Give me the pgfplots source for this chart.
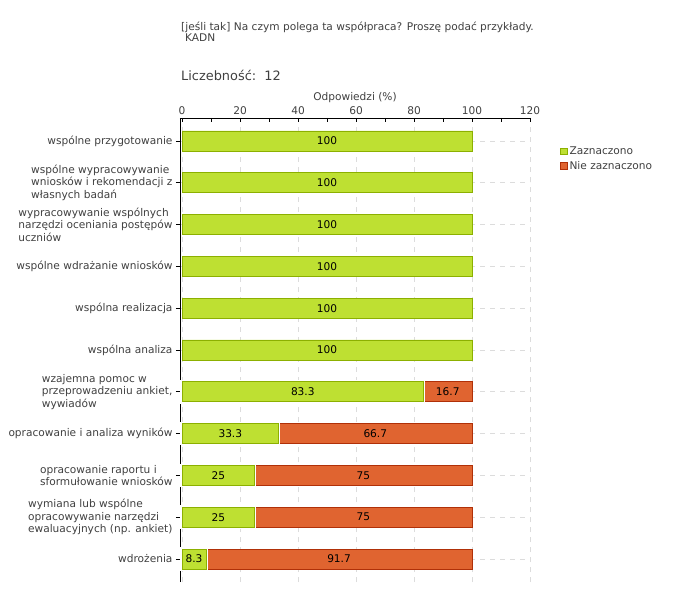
\documentclass[border=0pt]{standalone}
\usepackage{pgfplots}
\pgfplotsset{compat=1.18}
\usepackage{pgfplotstable}
\usepackage{fontspec}
\setmainfont{DejaVu Sans}
\definecolor{mygreen}{RGB}{190,224,50}
\definecolor{mygreenD}{RGB}{140,176,0}
\definecolor{myorange}{RGB}{224,100,48}
\definecolor{myorangeD}{RGB}{176,48,8}
\definecolor{txt}{RGB}{64,64,64}
\definecolor{gridc}{RGB}{220,220,220}
\newcommand{\tfont}{\fontsize{10.6}{12.5}\selectfont}

% green share (Zaznaczono), rows with an orange part first
\pgfplotstableread{
y g
0 8.3
1 25
2 25
3 33.3
4 83.3
5 100
6 100
7 100
8 100
9 100
10 100
}\gdata
% orange share (Nie zaznaczono)
\pgfplotstableread{
y o
0 91.7
1 75
2 75
3 66.7
4 16.7
}\odata
% label positions (segment middles)
\pgfplotstableread{
mid y lab
50 10 100
50 9 100
50 8 100
50 7 100
50 6 100
50 5 100
41.65 4 83.3
91.65 4 16.7
16.65 3 33.3
66.65 3 66.7
12.5 2 25
62.5 2 75
12.5 1 25
62.5 1 75
4.15 0 8.3
54.15 0 91.7
}\labdata

\begin{document}
\begin{tikzpicture}
\fill[white] (0pt,0pt) rectangle (680pt,600pt);
\path[use as bounding box] (0pt,0pt) rectangle (680pt,600pt);
\node[anchor=base west, inner sep=0pt, font=\tfont, text=txt] at (181pt,569pt) {[jeśli tak] Na czym polega ta współpraca? Proszę podać przykłady.};
\node[anchor=base west, inner sep=0pt, font=\tfont, text=txt] at (185pt,558pt) {KADN};
\node[anchor=base west, inner sep=0pt, font=\fontsize{12.9}{15}\selectfont, text=txt] at (181pt,519pt) {Liczebność:\ \ 12};

\begin{axis}[
  at={(180pt,18pt)}, anchor=south west,
  scale only axis, width=350pt, height=464pt,
  xmin=-0.7, xmax=120, ymin=-0.55, ymax=10.55,
  xbar stacked, bar width=20pt,
  axis x line=top, axis y line=left,
  axis line style={-, black, line width=0.8pt},
  xtick={0,20,...,120}, minor x tick num=1,
  ytick={0,...,10},
  yticklabels={
    {wdrożenia},
    {wymiana lub wspólne\\opracowywanie narzędzi\\ewaluacyjnych (np. ankiet)},
    {opracowanie raportu i\\sformułowanie wniosków},
    {opracowanie i analiza wyników},
    {wzajemna pomoc w\\przeprowadzeniu ankiet,\\wywiadów},
    {wspólna analiza},
    {wspólna realizacja},
    {wspólne wdrażanie wniosków},
    {wypracowywanie wspólnych\\narzędzi oceniania postępów\\uczniów},
    {wspólne wypracowywanie\\wniosków i rekomendacji z\\własnych badań},
    {wspólne przygotowanie}},
  tick align=inside,
  major tick length=4pt, minor tick length=4pt,
  xtick style={black, line width=0.8pt},
  minor tick style={red, line width=0.8pt},
  ytick style={black, line width=0.8pt, xshift=-4pt},
  xmajorgrids, ymajorgrids,
  major grid style={gridc, line width=0.7pt, dash pattern=on 5pt off 5pt},
  /pgf/number format/assume math mode=true,
  ticklabel style={font=\tfont, text=txt},
  yticklabel style={align=left, xshift=-4pt},
  xlabel={Odpowiedzi (\%)},
  xlabel style={font=\tfont, text=txt, yshift=-3pt},
  legend style={at={(1.086,0.942)}, anchor=north west, draw=none, fill=none,
    font=\tfont, text=txt, row sep=1pt, inner sep=0pt,
    cells={anchor=west}},
  legend image code/.code={\fill[#1] (0pt,-3pt) rectangle (6.5pt,3.5pt);},
]
\addplot[fill=mygreen, draw=mygreenD, line width=0.7pt] table[x=g, y=y]{\gdata};
\addplot[fill=myorange, draw=myorangeD, line width=0.7pt] table[x=o, y=y]{\odata};
\legend{Zaznaczono, Nie zaznaczono}
\end{axis}

\begin{axis}[
  at={(180pt,18pt)}, anchor=south west,
  scale only axis, width=350pt, height=464pt,
  xmin=-0.7, xmax=120, ymin=-0.55, ymax=10.55,
  hide axis, clip=false,
]
\addplot[xbar, bar width=20pt, bar shift=0pt, fill=mygreen, draw=mygreenD, line width=0.7pt,
  preaction={draw=white, line width=3.5pt}, restrict y to domain=-0.5:4.5] table[x=g, y=y]{\gdata};
\addplot[draw=none, nodes near coords, point meta=explicit symbolic,
  every node near coord/.append style={anchor=center, font=\tfont, text=black}]
  table[x=mid, y=y, meta=lab]{\labdata};
\end{axis}
\end{tikzpicture}
\end{document}
